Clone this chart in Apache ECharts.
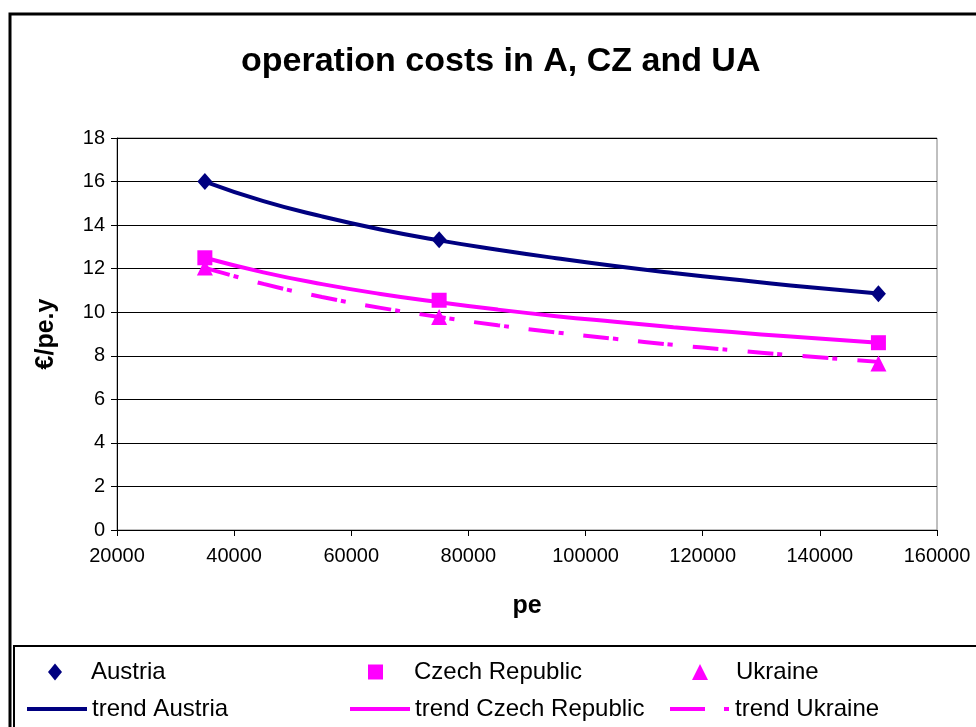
<!DOCTYPE html>
<html>
<head>
<meta charset="utf-8">
<script src="https://cdn.jsdelivr.net/npm/echarts@6/dist/echarts.min.js"></script>
<style>
  html, body { margin: 0; padding: 0; background: #fff; }
</style>
</head>
<body>
<div id="main" style="width: 976px;height:727px;"></div>

<script type="text/javascript">
// measured points (pe, €/pe.y)
var pe = [35000, 75000, 150000];
var austria = [16.0, 13.33, 10.85];
var czech = [12.5, 10.55, 8.6];
var ukraine = [12.05, 9.78, 7.65];

// trend curves
var trendX = [35000, 45000, 55000, 65000, 75000, 85000, 95000, 105000, 115000, 125000, 135000, 150000];
var trendAustria = [16.0, 15.1, 14.4, 13.8, 13.3, 12.87, 12.48, 12.12, 11.8, 11.51, 11.23, 10.86];
var trendCzech = [12.5, 11.83, 11.29, 10.84, 10.46, 10.12, 9.82, 9.56, 9.31, 9.09, 8.88, 8.6];
var trendUkraine = [12.05, 11.3, 10.7, 10.2, 9.78, 9.4, 9.07, 8.78, 8.5, 8.26, 8.03, 7.72];

var navy = '#000080';
var pink = '#ff00ff';
var font = 'Arial, "Liberation Sans", sans-serif';

function pairs(xs, ys) {
	return xs.map(function (x, i) { return [x, ys[i]]; });
}

var myChart = echarts.init(document.getElementById('main'));

// one legend box per entry so each sits where the original has it
function markLegend(name, icon, left, w, h, gap) {
	return {
		data: [{ name: name, icon: icon }],
		left: left, top: 660,
		itemWidth: w, itemHeight: h,
		padding: 0,
		textStyle: { fontFamily: font, fontSize: 24, color: '#000', padding: [0, 0, 0, gap] }
	};
}
function lineLegend(name, left, dash) {
	var ls = { width: 4 };
	if (dash) ls.type = dash;
	return {
		data: [name],
		left: left, top: 697,
		itemWidth: 60, itemHeight: 24,
		padding: 0,
		itemStyle: { opacity: 0 },
		lineStyle: ls,
		textStyle: { fontFamily: font, fontSize: 24, color: '#000' }
	};
}

option = {
	animation: false,
	backgroundColor: '#fff',
	title: {
		text: 'operation costs in A, CZ and UA',
		left: 236,
		top: 40,
		textStyle: { fontFamily: font, fontSize: 34, fontWeight: 'bold', color: '#000' }
	},
	grid: {
		left: 117, right: 39, top: 138, bottom: 197,
		show: true, borderColor: '#808080', borderWidth: 1,
		containLabel: false
	},
	legend: [
		markLegend('Austria', 'diamond', 48, 14, 17, 24),
		markLegend('Czech Republic', 'rect', 368, 15, 15, 26),
		markLegend('Ukraine', 'triangle', 692, 16, 16, 23),
		lineLegend('trend Austria', 25),
		lineLegend('trend Czech Republic', 348),
		lineLegend('trend Ukraine', 668, [35, 19, 5, 100])
	],
	xAxis: {
		type: 'value',
		min: 20000, max: 160000, interval: 20000,
		name: 'pe',
		nameLocation: 'middle',
		nameGap: 64,
		nameTextStyle: { fontFamily: font, fontSize: 25, fontWeight: 'bold', color: '#000' },
		axisLine: { onZero: false, lineStyle: { color: '#000', width: 1 } },
		axisTick: { show: true, length: 6, lineStyle: { color: '#000' } },
		axisLabel: {
			fontFamily: font, fontSize: 20, color: '#000', margin: 16,
			formatter: function (v) { return String(v); }
		},
		splitLine: { show: false }
	},
	yAxis: {
		type: 'value',
		min: 0, max: 18, interval: 2,
		name: '€/pe.y',
		nameLocation: 'middle',
		nameGap: 58,
		nameRotate: 90,
		nameTextStyle: { fontFamily: font, fontSize: 25, fontWeight: 'bold', color: '#000' },
		axisLine: { show: true, lineStyle: { color: '#000', width: 1 } },
		axisTick: { show: true, length: 6, lineStyle: { color: '#000' } },
		axisLabel: { fontFamily: font, fontSize: 20, color: '#000', margin: 12 },
		splitLine: { show: true, lineStyle: { color: '#000', width: 1 } }
	},
	graphic: [
		{
			type: 'rect', silent: true, z: -10,
			shape: { x: 10, y: 14, width: 1000, height: 1000 },
			style: { fill: null, stroke: '#000', lineWidth: 3 }
		},
		{
			type: 'rect', silent: true, z: -10,
			shape: { x: 14, y: 646, width: 1000, height: 200 },
			style: { fill: '#fff', stroke: '#000', lineWidth: 2 }
		}
	],
	series: [
		{
			name: 'trend Austria', type: 'line', data: pairs(trendX, trendAustria),
			symbol: 'none', smooth: true,
			lineStyle: { color: navy, width: 4 }, itemStyle: { color: navy }, z: 2
		},
		{
			name: 'trend Czech Republic', type: 'line', data: pairs(trendX, trendCzech),
			symbol: 'none', smooth: true,
			lineStyle: { color: pink, width: 4 }, itemStyle: { color: pink }, z: 2
		},
		{
			name: 'trend Ukraine', type: 'line', data: pairs(trendX, trendUkraine),
			symbol: 'none', smooth: true,
			lineStyle: { color: pink, width: 4, type: [26, 4, 5, 20] }, itemStyle: { color: pink }, z: 2
		},
		{
			name: 'Austria', type: 'scatter', data: pairs(pe, austria),
			symbol: 'diamond', symbolSize: [15, 17], itemStyle: { color: navy, opacity: 1 }, z: 3
		},
		{
			name: 'Czech Republic', type: 'scatter', data: pairs(pe, czech),
			symbol: 'rect', symbolSize: 15, itemStyle: { color: pink, opacity: 1 }, z: 3
		},
		{
			name: 'Ukraine', type: 'scatter', data: pairs(pe, ukraine),
			symbol: 'triangle', symbolSize: 16, itemStyle: { color: pink, opacity: 1 }, z: 3
		}
	]
};

myChart.setOption(option);
</script>
</body>
</html>
